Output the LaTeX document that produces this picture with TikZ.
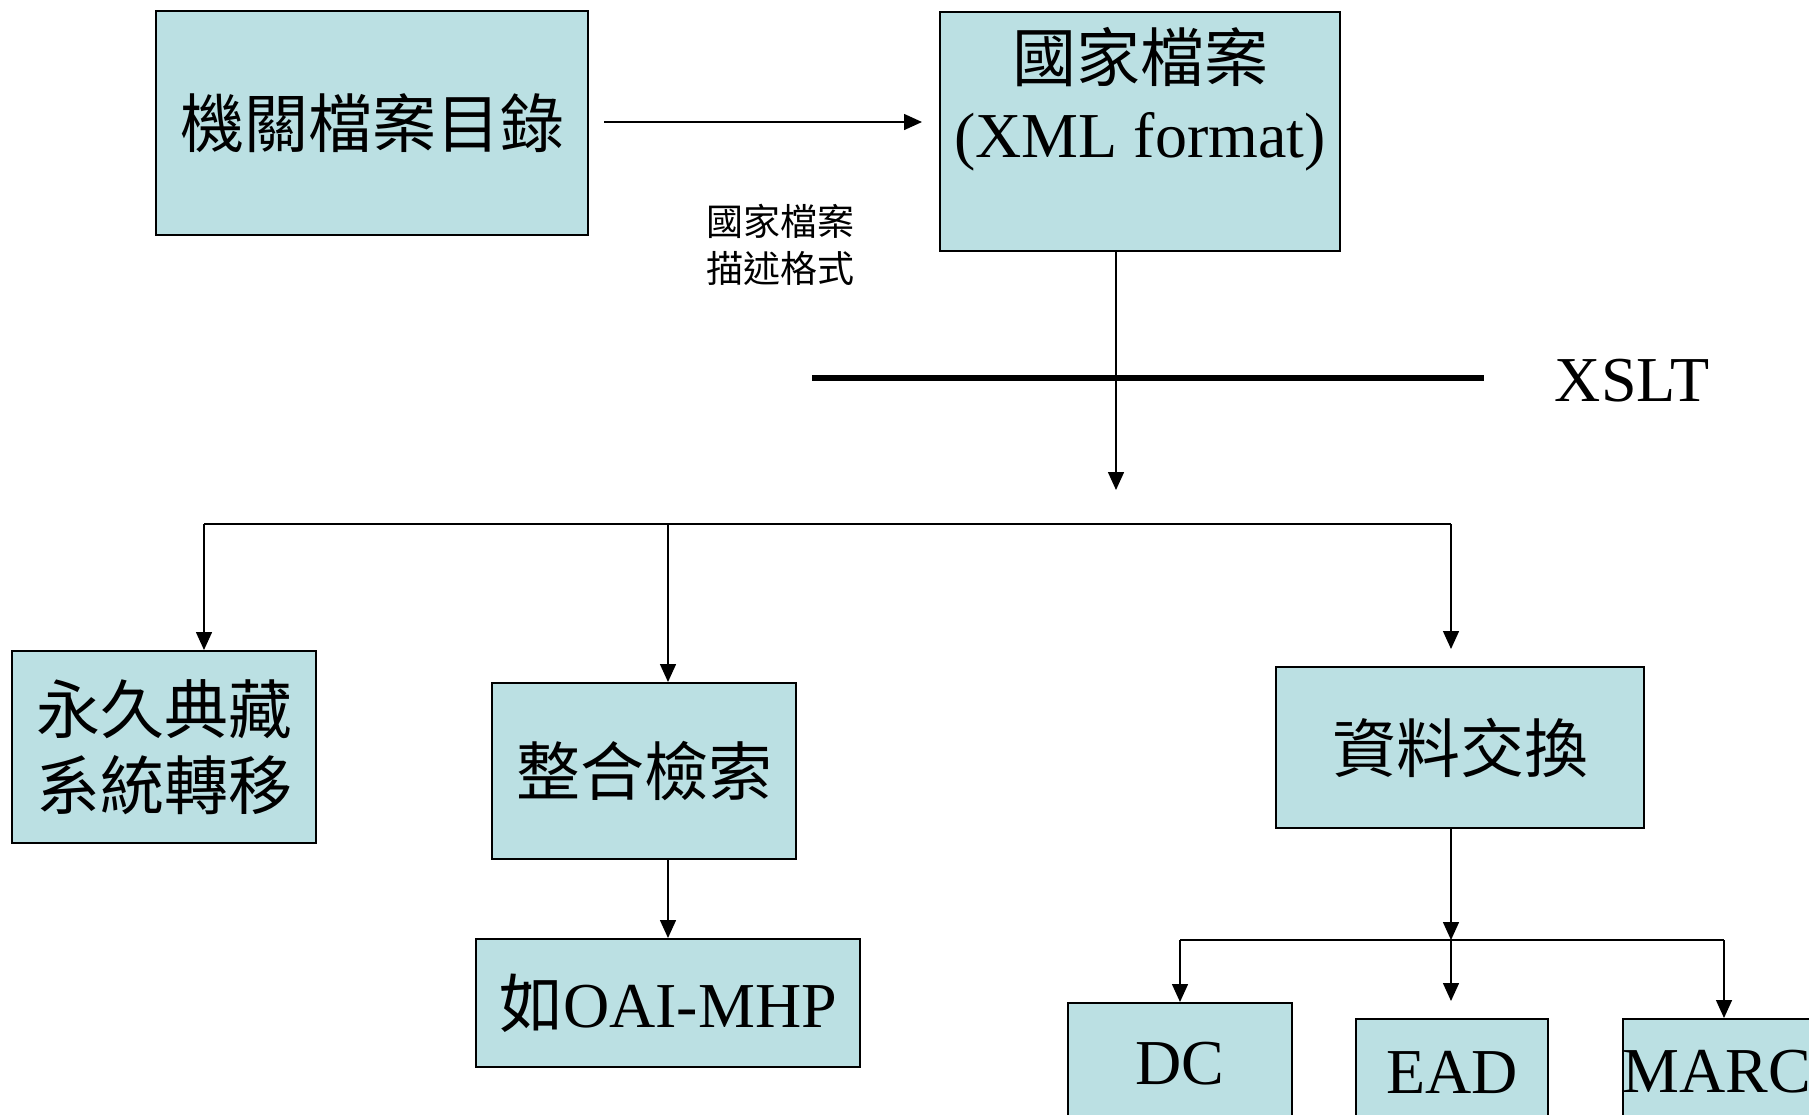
\documentclass[tikz,border=0pt]{standalone}
\usepackage{fontspec}
\setmainfont{Liberation Serif}
\newfontfamily\cjk{Noto Sans CJK TC}
\usetikzlibrary{arrows.meta}
\definecolor{boxfill}{HTML}{BBE0E3}
\tikzset{
  box/.style={draw, line width=1pt, fill=boxfill, inner sep=0pt, align=center,
              font=\fontsize{32}{38}\selectfont},
  txt/.style={inner sep=0pt, align=center, font=\fontsize{32}{38}\selectfont},
  note/.style={inner sep=0pt, align=center, font=\cjk\fontsize{18.5}{23.5}\selectfont},
  link/.style={line width=0.75pt},
  arr/.style={link, -{Triangle[length=9pt,width=8pt]}}
}

\begin{document}
\begin{tikzpicture}[x=0.5pt, y=-0.5pt]
    \useasboundingbox (0,0) rectangle (1809,1114);

    \node[box, minimum width=216pt, minimum height=112pt] (cat) at (372,123) {\cjk 機關檔案目錄};
    \node[box, minimum width=200pt, minimum height=119.5pt] (nat) at (1140,131) {};
    \node[txt, anchor=north] (natlbl) at ([yshift=-8pt]nat.north) {{\cjk 國家檔案}\\(XML format)};
    \node[note] (fmtlbl) at (780,245) {國家檔案\\描述格式};

    \node[box, minimum width=152pt, minimum height=96pt] (perm) at (164,747) {\cjk 永久典藏\\\cjk 系統轉移};
    \node[box, minimum width=152pt, minimum height=88pt] (search) at (644,771) {\cjk 整合檢索};
    \node[box, minimum width=192pt, minimum height=64pt] (oai) at (668,1003) {{\cjk 如}OAI-MHP};
    \node[box, minimum width=184pt, minimum height=80.5pt] (exch) at (1460,747.5) {\cjk 資料交換};

    \node[box, minimum width=112pt, minimum height=61pt] (dc) at (1180,1064) {DC};
    \node[box, minimum width=96pt, minimum height=53pt] (ead) at (1452,1072) {EAD};
    \node[box, minimum width=89pt, minimum height=53pt] (marc) at (1717,1072) {MARC};

    \coordinate (xslt) at (1116,490);
    \coordinate (busL) at (204,524);
    \coordinate (busM) at (668,524);
    \coordinate (busR) at (1451,524);
    \coordinate (subL) at (1180,940);
    \coordinate (subM) at (1451,940);
    \coordinate (subR) at (1724,940);

    \draw[arr] ([xshift=7.5pt,yshift=0.5pt]cat.east) -- ([xshift=-8.5pt,yshift=0.5pt]cat.east -| nat.west);
    \draw[arr] (xslt |- nat.south) -- (xslt);
    \draw[line width=2.6pt] (812,378) -- (1484,378);
    \node[txt] (xsltlbl) at (1632,381) {XSLT};

    \draw[link] (busL) -- (busR);
    \draw[arr] (busL) -- (busL |- perm.north);
    \draw[arr] (busM) -- (busM |- search.north);
    \draw[arr, shorten >=8.5pt] (busR) -- (busR |- exch.north);
    \draw[arr] (busM |- search.south) -- (oai.north);

    \draw[arr] (subM |- exch.south) -- (subM);
    \draw[link] (subL) -- (subR);
    \draw[arr] (subL) -- (subL |- dc.north);
    \draw[arr, shorten >=8.5pt] (subM) -- (subM |- ead.north);
    \draw[arr] (subR) -- (subR |- marc.north);
\end{tikzpicture}
\end{document}
